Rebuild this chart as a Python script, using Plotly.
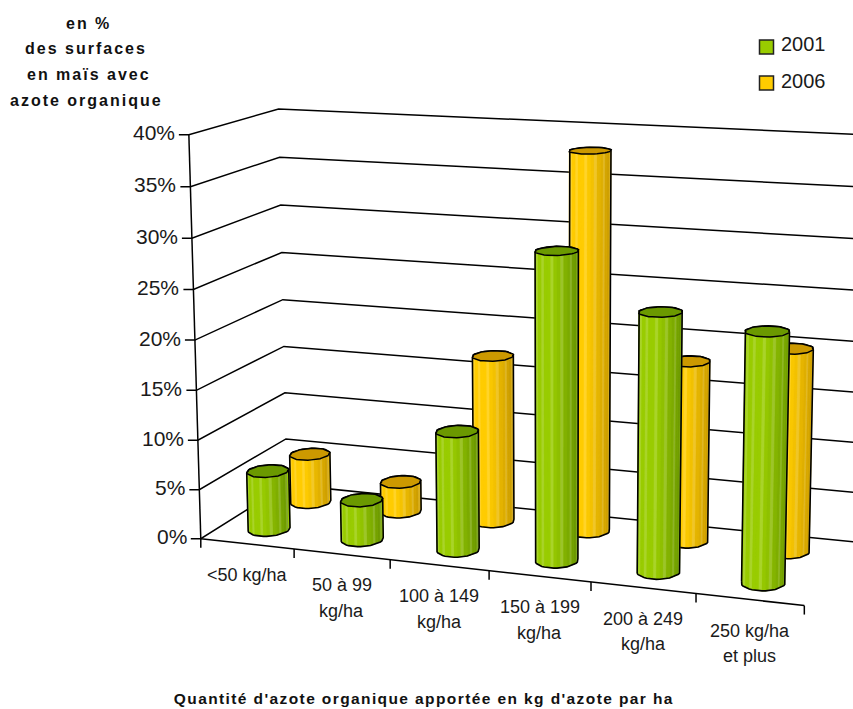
import numpy as np
import plotly.graph_objects as go

categories = ["<50 kg/ha", "50 à 99<br>kg/ha", "100 à 149<br>kg/ha", "150 à 199<br>kg/ha", "200 à 249<br>kg/ha", "250 kg/ha<br>et plus"]
values_2001 = [6.0, 4.0, 11.8, 30.0, 24.9, 23.8]
values_2006 = [5.1, 3.1, 17.0, 38.0, 18.0, 20.0]
value_ticks = [0, 5, 10, 15, 20, 25, 30, 35, 40]
y_title_lines = ["en %", "des surfaces", "en maïs avec", "azote organique"]
x_title = "Quantité d'azote organique apportée en kg d'azote par ha"

W, H = 853, 709
VMAX = 40.0

# camera: fitted from where the chart box lands on the page (u along categories, v depth, w height)
calib = [
    (0, 0, 0, 202, 538), (1/6, 0, 0, 295, 549), (2/6, 0, 0, 391, 559), (3/6, 0, 0, 489, 571),
    (4/6, 0, 0, 591, 582), (5/6, 0, 0, 696, 594), (1, 0, 0, 804, 606),
    (0, 0, 1, 188, 133), (0, 0, 7/8, 190, 186), (0, 0, 6/8, 191, 238), (0, 0, 5/8, 193, 289),
    (0, 0, .5, 195, 340), (0, 0, 3/8, 197, 390), (0, 0, .25, 199, 441), (0, 0, 1/8, 200, 491),
    (0, 1, 0, 286, 486), (0, 1, 1/8, 285, 438), (0, 1, .25, 285, 392), (0, 1, 3/8, 284, 346),
    (0, 1, .5, 283, 300), (0, 1, 5/8, 283, 253), (0, 1, .75, 281, 205), (0, 1, 7/8, 280, 157), (0, 1, 1, 280, 109),
    (1, 1, 0, 852, 541), (1, 1, 1, 860, 134),
    (1/12, .25, 0, 268, 531), (1/12, .75, 0, 310, 503), (11/12, .25, 0, 763, 581), (11/12, .75, 0, 791, 551),
    (7/12, .25, 0, 556, 560), (7/12, .75, 0, 586, 529), (9/12, .25, 0, 657, 571),
    (7/12, .75, .95, 588, 152), (7/12, .25, .75, 557, 252), (9/12, .25, .6225, 661, 313),
    (11/12, .25, .595, 768, 332), (11/12, .75, .5, 793, 350),
]
A = []
for X, Y, Z, x, y in calib:
    x, y = x / 1000, y / 1000
    A.append([X, Y, Z, 1, 0, 0, 0, 0, -x*X, -x*Y, -x*Z, -x])
    A.append([0, 0, 0, 0, X, Y, Z, 1, -y*X, -y*Y, -y*Z, -y])
P = np.linalg.svd(np.array(A, float))[2][-1].reshape(3, 4)


def proj(u, v, w):
    p = P @ np.array([u, v, w, 1.0])
    return 1000 * p[0] / p[2], 1000 * p[1] / p[2]


fig = go.Figure()


def line(pts, width=1.5, color="black"):
    fig.add_trace(go.Scatter(x=[p[0] for p in pts], y=[p[1] for p in pts], mode="lines",
                             line=dict(color=color, width=width), hoverinfo="skip", showlegend=False))


def poly(pts, fill, outline=None, width=0.6):
    xs = [p[0] for p in pts] + [pts[0][0]]
    ys = [p[1] for p in pts] + [pts[0][1]]
    fig.add_trace(go.Scatter(x=xs, y=ys, mode="lines", fill="toself", fillcolor=fill,
                             line=dict(color=outline or fill, width=width), hoverinfo="skip", showlegend=False))


# walls, ticks, axes
for t in value_ticks:
    w = t / VMAX
    a = proj(0, 0, w)
    line([(a[0] - 10, a[1]), a, proj(0, 1, w), proj(1.1, 1, w)])
    fig.add_annotation(x=a[0] - 12, y=a[1] - 2, text=f"{t}%", xanchor="right", yanchor="middle", showarrow=False,
                       font=dict(family="Liberation Sans", size=21, color="#1a1a1a"))
line([proj(0, 0, 0), proj(0, 0, 1)])
line([proj(0, 0, 0), proj(1, 0, 0)])
for i in range(7):
    a = proj(i / 6, 0, 0)
    line([a, (a[0], a[1] + 9)])

for i, c in enumerate(categories):
    a = proj((i + .5) / 6, 0, 0)
    for j, part in enumerate(c.split("<br>")):
        fig.add_annotation(x=a[0], y=a[1] + 31 + 25.5 * j, text=part, showarrow=False, xanchor="center", yanchor="middle",
                           font=dict(family="Liberation Sans", size=18, color="#1a1a1a"))


def hull(pts):
    pts = sorted(set(pts))
    def half(seq):
        out = []
        for p in seq:
            while len(out) >= 2 and (out[-1][0]-out[-2][0])*(p[1]-out[-2][1]) - (out[-1][1]-out[-2][1])*(p[0]-out[-2][0]) <= 0:
                out.pop()
            out.append(p)
        return out[:-1]
    return half(pts) + half(pts[::-1])


def mix(c1, c2, t):
    return tuple(a + (b - a) * t for a, b in zip(c1, c2))


def rgb(c):
    return "rgb(%d,%d,%d)" % tuple(round(a) for a in c)


RU, RV = 0.0325, 0.115
N = 40


def cylinder(i, v0, val, light, dark, top):
    u0 = (i + .5) / 6
    w = val / VMAX
    ang = [2 * np.pi * (k + .5) / N for k in range(N)]
    bump = [1 + 0.03 * np.cos(10 * a) for a in ang]
    base = [proj(u0 + RU * b * np.cos(a), v0 + RV * b * np.sin(a), 0) for a, b in zip(ang, bump)]
    head = [proj(u0 + RU * b * np.cos(a), v0 + RV * b * np.sin(a), w) for a, b in zip(ang, bump)]
    xmin = min(p[0] for p in base + head)
    xmax = max(p[0] for p in base + head)
    poly(hull(base + head), rgb(light))
    for k in range(N):
        m = ang[k] + np.pi / N
        if np.sin(m) > 0.05:
            continue
        n = (k + 1) % N
        quad = [base[k], base[n], head[n], head[k]]
        t = ((base[k][0] + base[n][0]) / 2 - xmin) / (xmax - xmin)
        t = max(0, (t - 0.4) / 0.6) ** 1.1
        c = mix(light, dark, t)
        if k % 3 == 0:
            c = mix(c, (255, 255, 255), 0.16)
        poly(quad, rgb(c), width=0.3)
    poly(hull(base + head), "rgba(0,0,0,0)", "black", 1.6)
    poly(head, top, "black", 1.5)


GREEN = ((153, 204, 0), (102, 145, 0), "#6b9900")
YELLOW = ((255, 204, 0), (196, 150, 0), "#cc9900")
for i, val in enumerate(values_2006):
    cylinder(i, 0.75, val, *YELLOW)
for i, val in enumerate(values_2001):
    cylinder(i, 0.25, val, *GREEN)

# legend keys and names
for name, col, yy, ty in (("2001", "#99cc00", 47, 44), ("2006", "#ffcc00", 83, 81)):
    fig.add_trace(go.Scatter(x=[766.5], y=[yy], mode="markers", name=name, showlegend=False, hoverinfo="skip",
                             marker=dict(symbol="square", size=14, color=col, line=dict(color="#222222", width=1.5))))
    fig.add_annotation(x=779, y=ty, text=name, xanchor="left", yanchor="middle", showarrow=False,
                       font=dict(family="Liberation Sans", size=20, color="#1a1a1a"))

for text, yy, xx in zip(y_title_lines, [23, 48, 74, 100], [88, 86, 89, 86]):
    fig.add_annotation(x=xx, y=yy, text=f"<b>{text}</b>", showarrow=False, xanchor="center", yanchor="middle",
                       font=dict(family="Liberation Sans", size=16, color="#111111"))
fig.add_annotation(x=424, y=698, text=f"<b>{x_title}</b>", showarrow=False, xanchor="center", yanchor="middle",
                   font=dict(family="Liberation Sans", size=15.5, color="#111111"))

fig.update_layout(
    width=W, height=H, margin=dict(l=0, r=0, t=0, b=0), paper_bgcolor="white", plot_bgcolor="white",
    xaxis=dict(range=[0, W], visible=False, fixedrange=True),
    yaxis=dict(range=[H, 0], visible=False, fixedrange=True),
    showlegend=False,
)

page_js = """
document.body.style.margin = '0';
document.querySelectorAll('.annotation-text').forEach(function (t) {
  var s = t.textContent;
  if (s.indexOf('Quantit') === 0) { t.style.letterSpacing = '1.4px'; }
  else if (['en %', 'des surfaces', 'en maïs avec', 'azote organique'].indexOf(s) >= 0) { t.style.letterSpacing = '2px'; }
});
"""
fig.write_html("out.html", post_script=page_js, config={"displayModeBar": False})
